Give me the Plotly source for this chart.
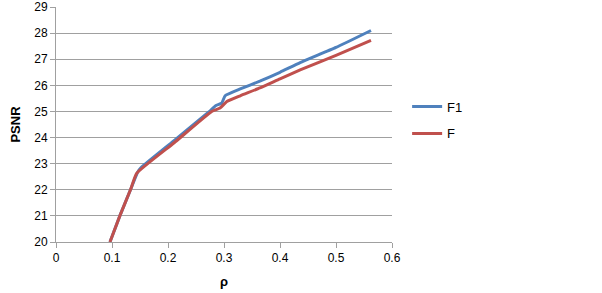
import plotly.graph_objects as go

# Data
rho_f1 = [0.0964, 0.114, 0.133, 0.146, 0.152, 0.213, 0.274, 0.285, 0.296, 0.302, 0.329, 0.364, 0.4, 0.436, 0.5, 0.5625]
psnr_f1 = [20.0, 21.0, 22.0, 22.68, 22.85, 23.92, 25.0, 25.22, 25.32, 25.6, 25.86, 26.16, 26.5, 26.87, 27.45, 28.1]

rho_f = [0.0964, 0.114, 0.133, 0.144, 0.211, 0.278, 0.293, 0.305, 0.329, 0.364, 0.4, 0.436, 0.5, 0.5625]
psnr_f = [20.0, 21.0, 22.0, 22.63, 23.8, 25.0, 25.13, 25.38, 25.6, 25.9, 26.25, 26.59, 27.15, 27.72]

x_ticks = [0, 0.1, 0.2, 0.3, 0.4, 0.5, 0.6]
y_ticks = list(range(20, 30))

fig = go.Figure()
fig.add_trace(go.Scatter(x=rho_f1, y=psnr_f1, mode="lines", name="F1", legendgroup="a",
                         line=dict(color="#4F81BD", width=3, shape="spline", smoothing=0.4)))
fig.add_trace(go.Scatter(x=rho_f, y=psnr_f, mode="lines", name="F", legendgroup="b",
                         line=dict(color="#C0504D", width=3, shape="spline", smoothing=0.4)))

axis_font = dict(family="Liberation Sans, Arial", size=12, color="#000000")
fig.update_layout(
    width=602, height=293,
    margin=dict(l=56, r=210, t=7, b=51),
    paper_bgcolor="white", plot_bgcolor="white",
    font=axis_font,
    legend=dict(x=1.045, y=0.519, xanchor="left", yanchor="middle",
                tracegroupgap=7, font=dict(family="Liberation Sans, Arial", size=13, color="#000"),
                bgcolor="rgba(0,0,0,0)"),
    xaxis=dict(range=[0, 0.6], tickvals=x_ticks, ticktext=[f"{v:g}" for v in x_ticks],
               showgrid=False, zeroline=False, showline=True, linecolor="#A0A0A0", linewidth=1,
               ticks="outside", ticklen=5, tickcolor="#A0A0A0", automargin=False,
               title=dict(text="<b>ρ</b>", font=dict(size=13), standoff=12)),
    yaxis=dict(range=[20, 29], tickvals=y_ticks, showgrid=True, gridcolor="#A0A0A0", gridwidth=1,
               zeroline=False, showline=True, linecolor="#A0A0A0", linewidth=1,
               ticks="outside", ticklen=5, tickcolor="#A0A0A0", automargin=False,
               title=dict(text="<b>PSNR</b>", font=dict(size=13), standoff=10)),
)

fig.write_html("out.html")
